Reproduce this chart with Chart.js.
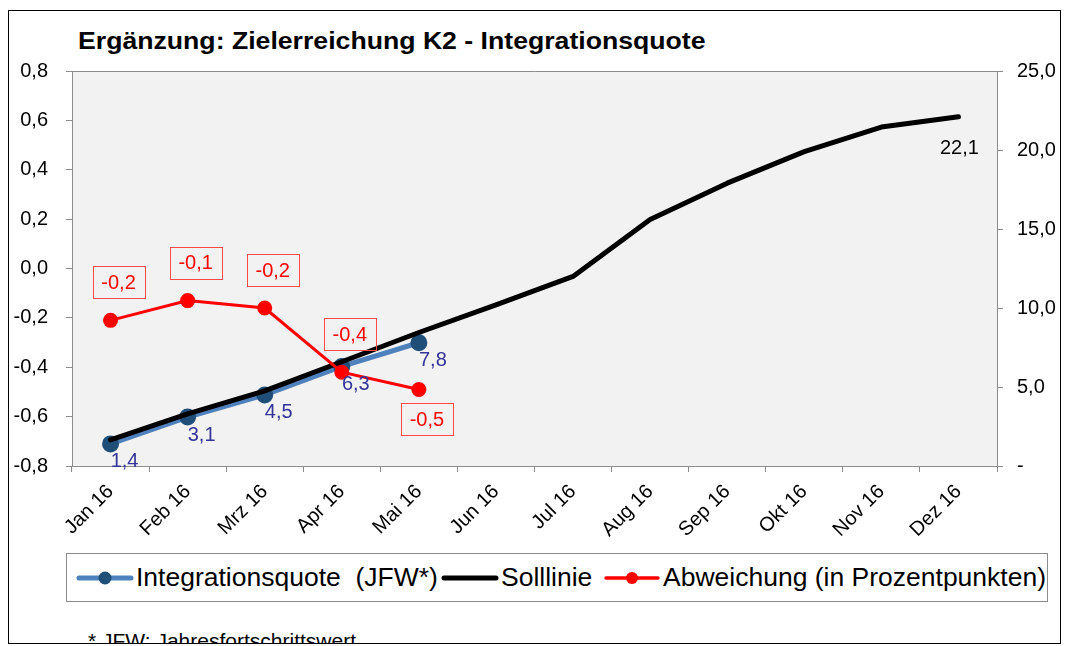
<!DOCTYPE html>
<html lang="de">
<head>
<meta charset="utf-8">
<title>Zielerreichung K2 - Integrationsquote</title>
<script src="https://cdn.jsdelivr.net/npm/chart.js@4.4.1/dist/chart.umd.min.js"></script>
<style>
  body { margin: 0; background: #fff; font-family: "Liberation Sans", Arial, sans-serif; }
  #frame { position: absolute; left: 8px; top: 10px; width: 1051px; height: 632px; border: 1px solid #000; overflow: hidden; }
  #page { position: absolute; left: -9px; top: -11px; width: 1066px; height: 646px; }
  #chart { position: absolute; left: 0; top: 0; }
  #title { position: absolute; left: 78px; top: 29px; font-size: 24px; font-weight: bold; line-height: 1; white-space: nowrap; transform: scaleX(1.11); transform-origin: left top; }
  #legend { position: absolute; left: 66px; top: 553px; width: 980px; height: 47px; border: 1px solid #8c8c8c; }
  .item { position: absolute; top: 0; height: 47px; display: flex; align-items: center; font-size: 26.5px; white-space: pre; }
  .item svg { margin-right: 2px; }
  #note { position: absolute; left: 88px; top: 630px; font-size: 21px; line-height: 1; white-space: nowrap; }
</style>
</head>
<body>
<div id="frame">
  <div id="page">
    <div id="title">Ergänzung: Zielerreichung K2 - Integrationsquote</div>
    <canvas id="chart" width="1066" height="540"></canvas>
    <div id="legend"></div>
    <div id="note">* JFW: Jahresfortschrittswert</div>
  </div>
</div>
<script>
// Data
const months = ["Jan 16", "Feb 16", "Mrz 16", "Apr 16", "Mai 16", "Jun 16",
                "Jul 16", "Aug 16", "Sep 16", "Okt 16", "Nov 16", "Dez 16"];
const integrationsquote = [1.4, 3.1, 4.5, 6.3, 7.8];
const solllinie = [1.65, 3.3, 4.75, 6.6, 8.45, 10.2, 12.0, 15.6, 17.9, 19.9, 21.45, 22.1];
const abweichung = [-0.21, -0.13, -0.16, -0.42, -0.49];

const leftMin = -0.8, leftMax = 0.8, leftStep = 0.2;
const rightMin = 0, rightMax = 25, rightStep = 5;

const seriesNames = ["Integrationsquote  (JFW*)", "Solllinie", "Abweichung (in Prozentpunkten)"];

const BLUE = "#4F81BD";
const NAVY = "#1F4E79";
const RED = "#FF0000";
const AXIS = "#8c8c8c";

function fmt(v) {
    if (Math.abs(v) < 1e-9) return "0,0";
    return v.toFixed(1).replace(".", ",");
}

// plot background and top border
const plotArea = {
    id: "plotArea",
    beforeDraw(chart) {
        const a = chart.chartArea;
        const ctx = chart.ctx;
        ctx.save();
        ctx.fillStyle = "#F2F2F2";
        ctx.fillRect(a.left, a.top, a.right - a.left, a.bottom - a.top);
        ctx.strokeStyle = AXIS;
        ctx.lineWidth = 1;
        ctx.beginPath();
        ctx.moveTo(a.left, Math.round(a.top) + 0.5);
        ctx.lineTo(a.right, Math.round(a.top) + 0.5);
        ctx.stroke();
        ctx.restore();
    }
};

// data labels
const valueLabels = {
    id: "valueLabels",
    afterDatasetsDraw(chart) {
        const ctx = chart.ctx;
        ctx.save();
        ctx.font = '20px "Liberation Sans", Arial, sans-serif';
        ctx.textAlign = "center";
        ctx.textBaseline = "middle";

        ctx.fillStyle = "#333399";
        chart.getDatasetMeta(0).data.forEach((pt, i) => {
            ctx.fillText(fmt(integrationsquote[i]), pt.x + 14, pt.y + 18);
        });

        const soll = chart.getDatasetMeta(1).data;
        const last = soll[soll.length - 1];
        ctx.fillStyle = "#000";
        ctx.fillText(fmt(solllinie[solllinie.length - 1]), last.x + 1, last.y + 32);

        chart.getDatasetMeta(2).data.forEach((pt, i) => {
            const text = fmt(abweichung[i]);
            const w = Math.round(ctx.measureText(text).width + 18);
            const h = 32;
            const cx = pt.x + 8;
            const cy = i === abweichung.length - 1 ? pt.y + 30 : pt.y - 38;
            ctx.strokeStyle = "#ff4a4a";
            ctx.lineWidth = 1;
            ctx.strokeRect(Math.round(cx - w / 2) + 0.5, Math.round(cy - h / 2) + 0.5, w, h);
            ctx.fillStyle = RED;
            ctx.fillText(text, cx, cy + 1);
        });
        ctx.restore();
    }
};

Chart.defaults.font.family = '"Liberation Sans", Arial, sans-serif';
Chart.defaults.color = "#000";

const ctx = document.getElementById("chart").getContext("2d");
new Chart(ctx, {
    type: "line",
    data: {
        labels: months,
        datasets: [{
            label: seriesNames[0],
            data: integrationsquote,
            yAxisID: "y1",
            borderColor: BLUE,
            borderWidth: 5,
            pointRadius: 6,
            pointBackgroundColor: NAVY,
            pointBorderColor: NAVY,
            borderCapStyle: "round",
            order: 2
        }, {
            label: seriesNames[1],
            data: solllinie,
            yAxisID: "y1",
            borderColor: "#000",
            borderWidth: 5,
            pointRadius: 0,
            borderCapStyle: "round",
            borderJoinStyle: "round",
            order: 1
        }, {
            label: seriesNames[2],
            data: abweichung,
            yAxisID: "y",
            borderColor: RED,
            borderWidth: 3,
            pointRadius: 6,
            pointBackgroundColor: RED,
            pointBorderColor: RED,
            order: 0
        }]
    },
    options: {
        responsive: false,
        animation: false,
        layout: { padding: { top: 71, left: 0, right: 0, bottom: 0 } },
        plugins: {
            legend: { display: false },
            title: { display: false },
            tooltip: { enabled: false }
        },
        scales: {
            x: {
                offset: true,
                grid: { offset: true, drawOnChartArea: false, tickLength: 6, color: AXIS },
                border: { color: AXIS },
                ticks: { minRotation: 45, maxRotation: 45, autoSkip: false, padding: 8, font: { size: 20 } },
                afterFit(axis) { axis.height = 74; }
            },
            y: {
                position: "left",
                min: leftMin,
                max: leftMax,
                grid: { drawOnChartArea: false, tickLength: 6, color: AXIS },
                border: { color: AXIS },
                ticks: { stepSize: leftStep, padding: 18, font: { size: 20 }, callback: v => fmt(v) },
                afterFit(axis) { axis.width = 72; }
            },
            y1: {
                position: "right",
                min: rightMin,
                max: rightMax,
                grid: { drawOnChartArea: false, tickLength: 6, color: AXIS },
                border: { color: AXIS },
                ticks: { stepSize: rightStep, padding: 14, font: { size: 20 },
                         callback: v => v === 0 ? "-" : fmt(v) },
                afterFit(axis) { axis.width = 69; }
            }
        }
    },
    plugins: [plotArea, valueLabels]
});

// legend with line + marker samples
const legendItems = [
    { left: 9, color: BLUE, width: 5, marker: NAVY, r: 6.5 },
    { left: 374, color: "#000", width: 5, marker: null, r: 0 },
    { left: 536, color: RED, width: 3.5, marker: RED, r: 6 }
];
const legend = document.getElementById("legend");
legendItems.forEach((it, i) => {
    const div = document.createElement("div");
    div.className = "item";
    div.style.left = it.left + "px";
    let svg = '<svg width="58" height="16" viewBox="0 0 58 16">' +
        '<line x1="3" y1="8" x2="55" y2="8" stroke="' + it.color + '" stroke-width="' + it.width + '" stroke-linecap="round"/>';
    if (it.marker) svg += '<circle cx="29" cy="8" r="' + it.r + '" fill="' + it.marker + '"/>';
    svg += "</svg>";
    div.innerHTML = svg;
    const span = document.createElement("span");
    span.textContent = seriesNames[i];
    div.appendChild(span);
    legend.appendChild(div);
});
</script>
</body>
</html>
